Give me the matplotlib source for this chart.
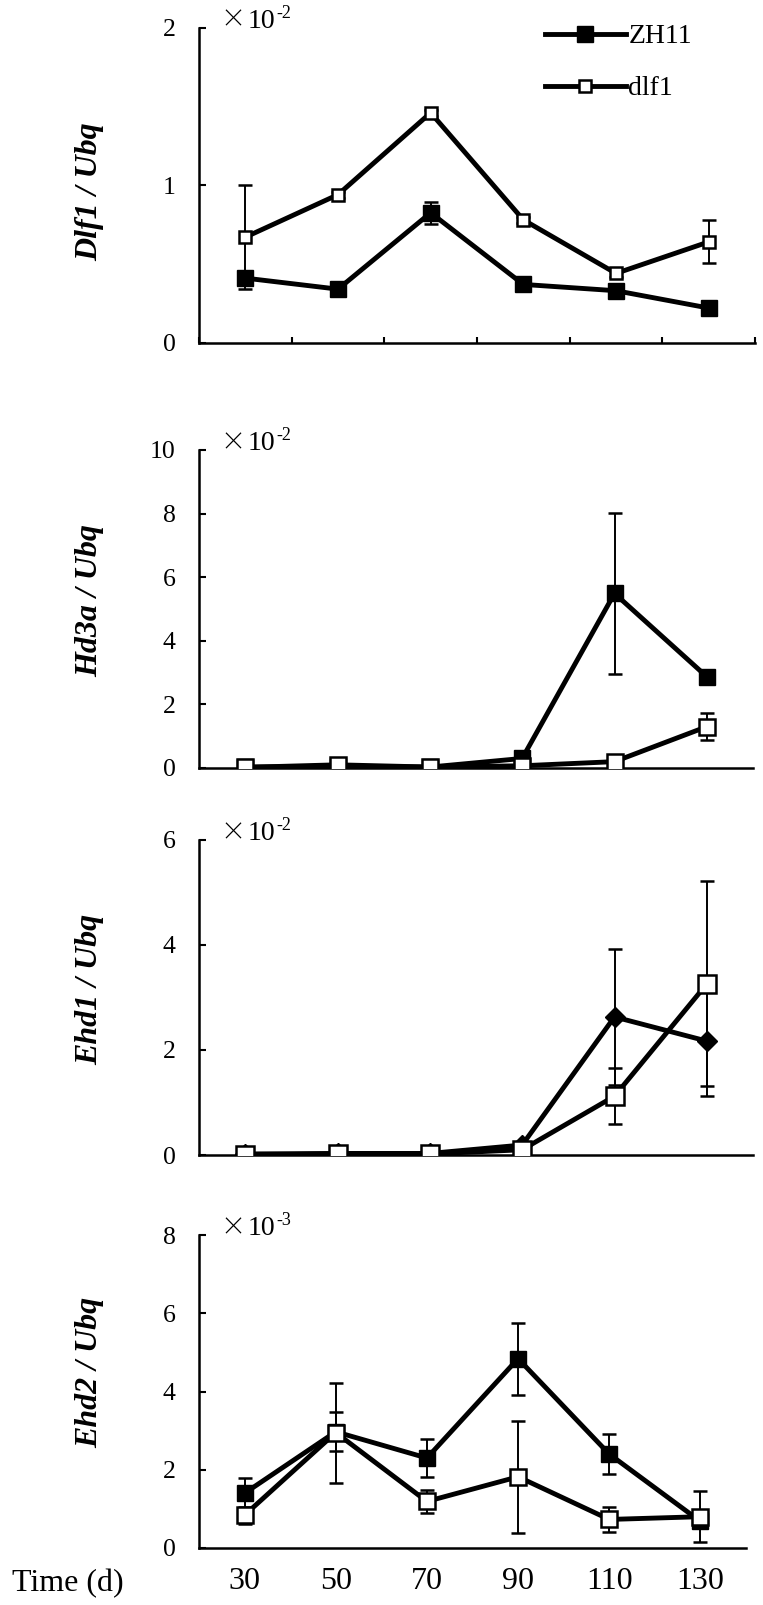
import matplotlib
matplotlib.use('Agg')
import matplotlib.pyplot as plt

plt.rcParams['font.family'] = ['Liberation Serif', 'DejaVu Serif']

days = [30, 50, 70, 90, 110, 130]
genes = ['Dlf1', 'Hd3a', 'Ehd1', 'Ehd2']
exponents = ['-2', '-2', '-2', '-3']
ymax = [2, 10, 6, 8]
ystep = [1, 2, 2, 2]

# ZH11 (wild type)
dlf1_zh11 = [0.41, 0.34, 0.825, 0.37, 0.33, 0.22]
dlf1_zh11_err = [0.03, 0.02, 0.07, 0.02, 0.02, 0.02]
hd3a_zh11 = [0.03, 0.05, 0.03, 0.30, 5.49, 2.87]
hd3a_zh11_err = [0.02, 0.02, 0.02, 0.05, 2.53, 0.15]
ehd1_zh11 = [0.02, 0.03, 0.03, 0.19, 2.63, 2.17]
ehd1_zh11_err = [0.01, 0.02, 0.02, 0.05, 1.30, 1.05]
ehd2_zh11 = [1.40, 2.97, 2.30, 4.84, 2.40, 0.68]
ehd2_zh11_err = [0.38, 0.50, 0.48, 0.92, 0.52, 0.08]

# dlf1 mutant
dlf1_mut = [0.67, 0.94, 1.46, 0.78, 0.44, 0.64]
dlf1_mut_err = [0.33, 0.02, 0.02, 0.02, 0.02, 0.137]
hd3a_mut = [0.02, 0.10, 0.03, 0.07, 0.20, 1.30]
hd3a_mut_err = [0.01, 0.02, 0.01, 0.02, 0.05, 0.43]
ehd1_mut = [0.0, 0.02, 0.02, 0.10, 1.12, 3.26]
ehd1_mut_err = [0.01, 0.01, 0.01, 0.03, 0.53, 1.95]
ehd2_mut = [0.84, 2.95, 1.19, 1.82, 0.73, 0.80]
ehd2_mut_err = [0.22, 1.28, 0.29, 1.43, 0.31, 0.65]

zh11 = [dlf1_zh11, hd3a_zh11, ehd1_zh11, ehd2_zh11]
zh11_err = [dlf1_zh11_err, hd3a_zh11_err, ehd1_zh11_err, ehd2_zh11_err]
mut = [dlf1_mut, hd3a_mut, ehd1_mut, ehd2_mut]
mut_err = [dlf1_mut_err, hd3a_mut_err, ehd1_mut_err, ehd2_mut_err]

# layout in pixels: (top, bottom, right), label centre y
W, H = 763, 1605
left = 199
boxes = [(27.7, 342.7, 755), (450, 768, 753), (840, 1155, 753), (1235, 1548, 746)]
label_y = [192, 601, 989, 1372]
zh_marker = ['s', 's', 'D', 's']
zh_ms = [11, 12, 10.5, 12]
mut_ms = [9, 12, 13, 12]

fig = plt.figure(figsize=(W / 100, H / 100), dpi=100)
xpos = [i + 0.5 for i in range(len(days))]

for k in range(4):
    top, bot, right = boxes[k]
    ax = fig.add_axes([left / W, 1 - bot / H, (right - left) / W, (bot - top) / H])
    eb1 = ax.errorbar(xpos, zh11[k], yerr=zh11_err[k], color='black', lw=3.5,
                      marker=zh_marker[k], ms=zh_ms[k], mfc='black', mec='black',
                      elinewidth=1.4, capsize=4.7, capthick=1.8, zorder=2, label='ZH11')
    eb2 = ax.errorbar(xpos, mut[k], yerr=mut_err[k], color='black', lw=3.5,
                      marker='s', ms=mut_ms[k], mfc='white', mec='black', mew=1.8,
                      elinewidth=1.4, capsize=4.7, capthick=1.8, zorder=3, label='dlf1')
    ax.set_xlim(0, 6)
    ax.set_ylim(0, ymax[k])
    ax.set_yticks(range(0, ymax[k] + 1, ystep[k]))
    for s in ['top', 'right']:
        ax.spines[s].set_visible(False)
    for s in ['left', 'bottom']:
        ax.spines[s].set_linewidth(1.8)
    ax.tick_params(axis='y', direction='in', length=5, width=1.5, pad=17, labelsize=18.5)
    if k == 0:
        ax.set_xticks(range(7))
        ax.tick_params(axis='x', direction='in', length=4.5, width=1.5, labelbottom=False)
        ax.legend(handles=[eb1[0], eb2[0]], labels=['ZH11', 'dlf1'], frameon=False,
                  fontsize=20, loc='upper left', bbox_to_anchor=(545 / W, 1 - 24 / H),
                  bbox_transform=fig.transFigure, borderpad=0, borderaxespad=0,
                  handlelength=2.9, handletextpad=0.1, labelspacing=0.95)
    elif k == 3:
        ax.set_xticks(xpos)
        ax.set_xticklabels([str(d) for d in days])
        ax.tick_params(axis='x', length=0, pad=14, labelsize=23)
    else:
        ax.set_xticks([])
    # "×10" with a small raised exponent
    w = right - left
    ax.text((220 - left) / w, 1.0, '\u00d7', transform=ax.transAxes, va='baseline',
            ha='left', fontsize=18, family=['Noto Sans CJK JP', 'DejaVu Sans'],
            fontweight='light')
    ax.text((248 - left) / w, 1.0, '10', transform=ax.transAxes, va='baseline',
            ha='left', fontsize=20)
    ax.text((276 - left) / w, 1.0 + 10 / (bot - top), exponents[k],
            transform=ax.transAxes, va='baseline', ha='left', fontsize=13)
    fig.text(90 / W, 1 - label_y[k] / H, genes[k] + ' / Ubq', rotation=90,
             ha='center', va='center', fontsize=23, fontweight='bold', fontstyle='italic')

fig.text(12 / W, 1 - 1591 / H, 'Time (d)', ha='left', va='baseline', fontsize=23)

fig.savefig('out.png', dpi=100)
